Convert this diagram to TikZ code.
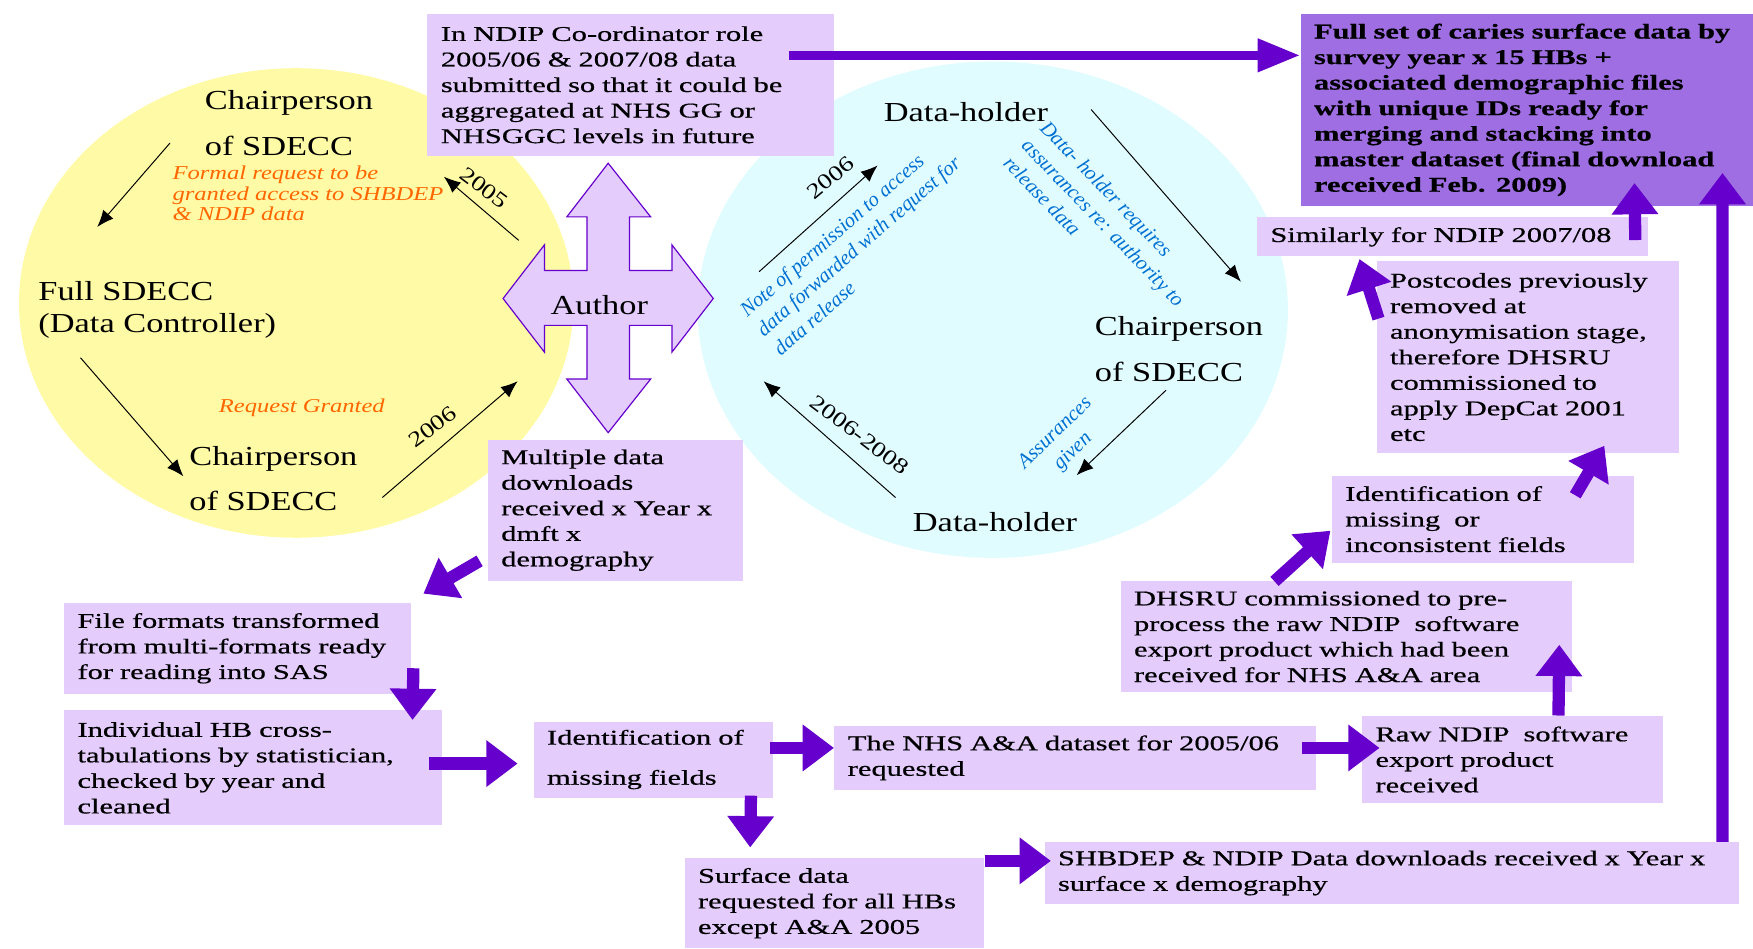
\documentclass[tikz,border=0pt]{standalone}
\usepackage{fontspec}
\setmainfont{Liberation Serif}
\newfontfamily\boxfont{Liberation Serif}[FakeStretch=1.45, FakeBold=0.6]
\newfontfamily\circfont{Liberation Serif}[FakeStretch=1.25]
\usetikzlibrary{arrows.meta}

\definecolor{boxfill}{RGB}{228,204,253}
\definecolor{darkfill}{RGB}{158,110,226}
\definecolor{arrowcol}{RGB}{102,0,204}
\definecolor{yellowfill}{RGB}{255,250,165}
\definecolor{cyanfill}{RGB}{224,252,255}
\definecolor{reqorange}{RGB}{255,102,0}
\definecolor{noteblue}{RGB}{0,112,210}

\begin{document}
\begin{tikzpicture}[x=0.2mm, y=-0.2mm,
		box/.style={fill=boxfill, anchor=north west, inner xsep=2.4mm, inner ysep=0pt, align=left, font=\fontsize{10.7}{13}\boxfont},
		circtext/.style={inner sep=0pt, align=left, font=\fontsize{14}{23.2}\circfont},
		redtext/.style={inner sep=0pt, align=left, text=reqorange, font=\fontsize{10}{10.5}\circfont\itshape},
		bluetext/.style={inner sep=0pt, text=noteblue, font=\fontsize{10.5}{13}\selectfont\itshape},
		yeartext/.style={inner sep=0pt, font=\fontsize{11}{13}\circfont},
		thinarrow/.style={-{Latex[length=3mm, width=2.4mm]}, line width=0.5pt},
		bigarrow/.style={draw=arrowcol, line width=2.2mm, -{Triangle[length=5.6mm, width=8mm]}}
	]
	\useasboundingbox (0,0) rectangle (1568,848);

	% the two circles
	\fill[yellowfill] (265,271) ellipse [x radius=49.6mm, y radius=42mm];
	\fill[cyanfill] (888,277) ellipse [x radius=52.8mm, y radius=44.4mm];

	% boxes
	\node[box, text width=68mm, minimum height=25.4mm] (ndip) at (382,12) {In NDIP Co-ordinator role\\2005/06 \& 2007/08 data\\submitted so that it could be\\aggregated at NHS GG or\\NHSGGC levels in future};
	\node[box, fill=darkfill, text width=76.2mm, minimum height=34.4mm, font=\fontsize{10.7}{13}\boxfont\bfseries] (fullset) at (1163,12) {Full set of caries surface data by\\survey year x 15 HBs +\\associated demographic files\\with unique IDs ready for\\merging and stacking into\\master dataset (final download\\received Feb. 2009)};
	\node[box, text width=65.2mm, minimum height=7mm] (similarly) at (1124,194) {Similarly for NDIP 2007/08};
	\node[box, text width=49.2mm, minimum height=34.4mm] (postcodes) at (1231,233) {Postcodes previously\\removed at\\anonymisation stage,\\therefore DHSRU\\commissioned to\\apply DepCat 2001\\etc};
	\node[box, text width=49.2mm, minimum height=15.6mm] (ident2) at (1191,425) {Identification of\\missing~ or\\inconsistent fields};
	\node[box, text width=76mm, minimum height=20mm] (dhsru) at (1002,519) {DHSRU commissioned to pre-\\process the raw NDIP~ software\\export product which had been\\received for NHS A\&A area};
	\node[box, text width=49mm, minimum height=15.6mm] (raw) at (1218,640) {Raw NDIP~ software\\export product\\received};
	\node[box, text width=81.4mm, minimum height=11.4mm] (nhsaa) at (746,649) {The NHS A\&A dataset for 2005/06\\requested};
	\node[box, text width=119.4mm, minimum height=11mm] (shbdep) at (934,753) {SHBDEP \& NDIP Data downloads received x Year x\\surface x demography};
	\node[box, text width=48.8mm, minimum height=16.2mm] (surface) at (612,767) {Surface data\\requested for all HBs\\except A\&A 2005};
	\node[box, text width=38mm, minimum height=13.6mm] (ident1) at (477,645) {Identification of\\[2.6mm]missing fields};
	\node[box, text width=62.8mm, minimum height=20.6mm] (indiv) at (57,635) {Individual HB cross-\\tabulations by statistician,\\checked by year and\\cleaned};
	\node[box, text width=57.2mm, minimum height=16.2mm] (formats) at (57,539) {File formats transformed\\from multi-formats ready\\for reading into SAS};
	\node[box, text width=40.8mm, minimum height=25.2mm] (multiple) at (436,393) {Multiple data\\downloads\\received x Year x\\dmft x\\demography};

	% four-way arrow round the author
	\draw[fill=boxfill, draw=arrowcol, line width=0.6pt] (544,146) -- (582,194) -- (563,194) -- (563,242) -- (601,242) -- (601,219) -- (638,267) -- (601,315) -- (601,291) -- (563,291) -- (563,339) -- (582,339) -- (544,387) -- (507,339) -- (525,339) -- (525,291) -- (487,291) -- (487,315) -- (450,267) -- (487,219) -- (487,242) -- (525,242) -- (525,194) -- (507,194) -- cycle;

	% people in the circles
	\node[circtext] (author) at (536,273) {Author};
	\node[circtext, anchor=west] (chairA) at (183,110) {Chairperson\\of SDECC};
	\node[circtext, anchor=west, font=\fontsize{14}{16.5}\circfont] (controller) at (34,277) {Full SDECC\\(Data Controller)};
	\node[circtext, anchor=west] (chairB) at (169,428) {Chairperson\\of SDECC};
	\node[circtext] (holderA) at (864,100) {Data-holder};
	\node[circtext, anchor=west] (chairC) at (979,312) {Chairperson\\of SDECC};
	\node[circtext] (holderB) at (890,467) {Data-holder};

	% notes on the arrows
	\node[redtext, anchor=west] (formal) at (154,173) {Formal request to be\\granted access to SHBDEP\\\& NDIP data};
	\node[redtext] (granted) at (270,365) {Request Granted};
	\node[bluetext, rotate=41, anchor=west, align=left] (note) at (679,297) {Note of permission to access\\data forwarded with request for\\data release};
	\node[bluetext, rotate=-46, align=left] (requires) at (987,199) {Data- holder requires\\assurances re: authority to\\release data};
	\node[bluetext, rotate=44, align=center] (assured) at (952,396) {Assurances\\given};
	\node[yeartext, rotate=-37] (yearA) at (433,168) {2005};
	\node[yeartext, rotate=37] (yearB) at (387,382) {2006};
	\node[yeartext, rotate=40] (yearC) at (743,159) {2006};
	\node[yeartext, rotate=-37] (yearD) at (769,389) {2006-2008};

	\begin{scope}[thinarrow]
		\draw ([shift={(-31,18)}]chairA.west) -- ([shift={(53,-74)}]controller.west);
		\draw ([shift={(-72,-58)}]author.center) -- ([shift={(214,48)}]chairA.west);
		\draw ([shift={(38,43)}]controller.west) -- ([shift={(-5,-2)}]chairB.west);
		\draw ([shift={(173,17)}]chairB.west) -- ([shift={(-73,68)}]author.center);
		\draw ([shift={(143,-30)}]author.center) -- ([shift={(-79,48)}]holderA.center);
		\draw ([shift={(112,-2)}]holderA.center) -- ([shift={(131,-60)}]chairC.west);
		\draw ([shift={(64,37)}]chairC.west) -- ([shift={(73,-42)}]holderB.center);
		\draw ([shift={(-89,-22)}]holderB.center) -- ([shift={(147,68)}]author.center);
	\end{scope}

	\begin{scope}
		\draw[bigarrow, line width=1.6mm, -{Triangle[length=7.6mm, width=5.6mm]}] ([shift={(-41,37.5)}]ndip.north east) -- ([shift={(0,37.5)}]fullset.north west);
		\draw[bigarrow] ([shift={(-12,-15)}]similarly.south east) -- ([shift={(299,-21)}]fullset.south west);
		\draw[bigarrow] ([shift={(-15,0)}]shbdep.north east) -- ([shift={(-28,-30)}]fullset.south east);
		\draw[bigarrow] ([shift={(2,52)}]postcodes.north west) -- ([shift={(92,2)}]similarly.south west);
		\draw[bigarrow] ([shift={(218,18)}]ident2.north west) -- ([shift={(204,-7)}]postcodes.south west);
		\draw[bigarrow] ([shift={(138,1)}]dhsru.north west) -- ([shift={(-1,-29)}]ident2.south west);
		\draw[bigarrow] ([shift={(176,0)}]raw.north west) -- ([shift={(-12,-43)}]dhsru.south east);
		\draw[bigarrow] ([shift={(-13,20)}]nhsaa.north east) -- ([shift={(16,29)}]raw.north west);
		\draw[bigarrow] ([shift={(-3,24)}]ident1.north east) -- ([shift={(0,20)}]nhsaa.north west);
		\draw[bigarrow] ([shift={(-20,-2)}]ident1.south east) -- ([shift={(59,-9)}]surface.north west);
		\draw[bigarrow] ([shift={(0,3)}]surface.north east) -- ([shift={(6,17)}]shbdep.north west);
		\draw[bigarrow] ([shift={(-12,48)}]indiv.north east) -- ([shift={(-14,38)}]ident1.north west);
		\draw[bigarrow] ([shift={(2,-23)}]formats.south east) -- ([shift={(312,9)}]indiv.north west);
		\draw[bigarrow] ([shift={(-7,-18)}]multiple.south west) -- ([shift={(11,-8)}]formats.north east);
	\end{scope}
\end{tikzpicture}
\end{document}
